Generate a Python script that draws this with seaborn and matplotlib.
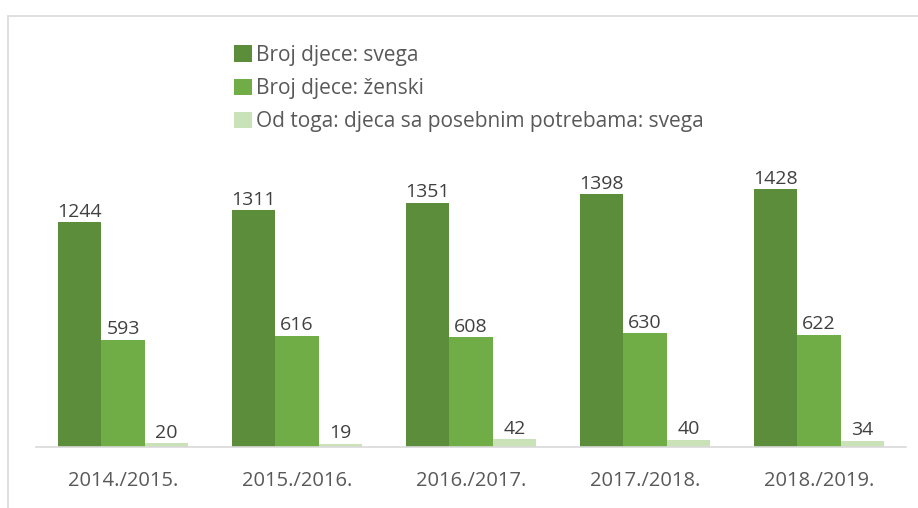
import pandas as pd
import matplotlib.pyplot as plt
import seaborn as sns
from matplotlib.patches import Rectangle, Patch

# data
years = ["2014./2015.", "2015./2016.", "2016./2017.", "2017./2018.", "2018./2019."]
series = ["Broj djece: svega", "Broj djece: ženski",
          "Od toga: djeca sa posebnim potrebama: svega"]
svega = [1244, 1311, 1351, 1398, 1428]
zenski = [593, 616, 608, 630, 622]
posebne = [20, 19, 42, 40, 34]
colors = ["#5b8d3a", "#70ad47", "#c9e2b8"]

df = pd.DataFrame({
    "year": years * 3,
    "series": [series[0]] * 5 + [series[1]] * 5 + [series[2]] * 5,
    "value": svega + zenski + posebne,
})

sns.set_theme(style="white")
plt.rcParams["font.family"] = ["Open Sans", "DejaVu Sans"]

W, H = 918, 508
fig = plt.figure(figsize=(W / 100, H / 100), dpi=100)
ax = fig.add_axes([36 / W, (H - 447) / H, 870 / W, 347 / H])

sns.barplot(data=df, x="year", y="value", hue="series", hue_order=series,
            palette=colors, width=0.75, gap=0, saturation=1, ax=ax,
            legend=False, errorbar=None, linewidth=0)

for cont in ax.containers:
    ax.bar_label(cont, fmt="%d", padding=1, fontsize=14, color="#404040")

ax.set_xlim(-0.5, 4.5)
ax.set_ylim(0, 347 / 0.1807)
ax.set_xlabel("")
ax.set_ylabel("")
ax.set_yticks([])
ax.tick_params(axis="x", length=0, pad=17, labelsize=14.5, labelcolor="#595959")
for s in ["top", "right", "left"]:
    ax.spines[s].set_visible(False)
ax.spines["bottom"].set_color("#d9d9d9")
ax.spines["bottom"].set_linewidth(1.2)

# chart frame, cut off at the right and bottom like the original
fig.patches.append(Rectangle((8 / W, -0.1), 1.2, (H - 16) / H + 0.1,
                             transform=fig.transFigure, fill=False,
                             edgecolor="#d9d9d9", linewidth=1.2))

handles = [Patch(facecolor=c, edgecolor="none") for c in colors]
fig.legend(handles, series, loc="upper left", bbox_to_anchor=(234 / W, 1 - 45 / H),
           frameon=False, fontsize=15, labelcolor="#595959",
           handlelength=0.85, handleheight=0.85, handletextpad=0.2,
           labelspacing=0.58, borderaxespad=0, borderpad=0)

fig.savefig("out.png", dpi=100)
